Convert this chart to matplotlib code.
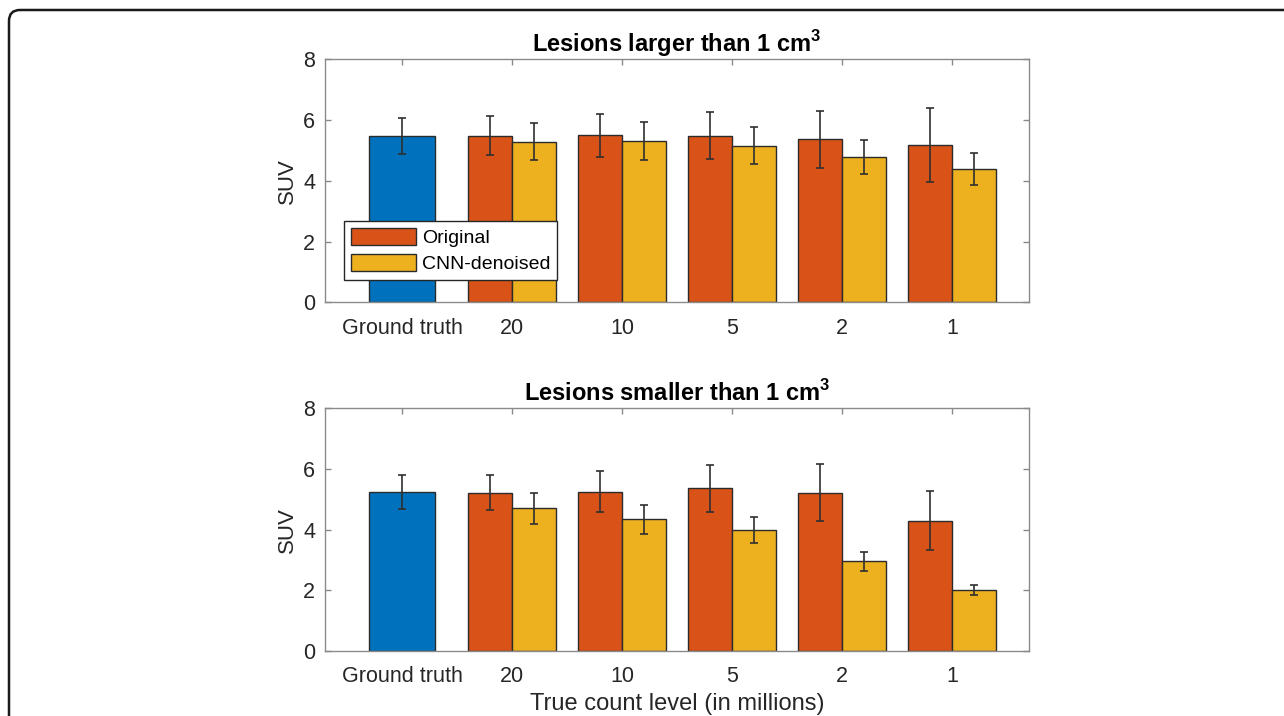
import numpy as np
import matplotlib
matplotlib.use("Agg")
import matplotlib.pyplot as plt
from matplotlib.patches import FancyBboxPatch

plt.rcParams['font.family'] = ['Liberation Sans', 'DejaVu Sans']
plt.rcParams['mathtext.fontset'] = 'custom'
plt.rcParams['mathtext.rm'] = 'Liberation Sans'
plt.rcParams['mathtext.bf'] = 'Liberation Sans:bold'

# count levels (millions)
labels = ['Ground truth', '20', '10', '5', '2', '1']

# lesions > 1 cm3
gt_large, gt_large_sd = 5.48, 0.60
orig_large = [5.48, 5.50, 5.48, 5.36, 5.18]
orig_large_sd = [0.64, 0.71, 0.77, 0.95, 1.22]
cnn_large = [5.28, 5.30, 5.16, 4.78, 4.38]
cnn_large_sd = [0.61, 0.63, 0.60, 0.56, 0.53]

# lesions < 1 cm3
gt_small, gt_small_sd = 5.24, 0.56
orig_small = [5.22, 5.25, 5.36, 5.22, 4.29]
orig_small_sd = [0.58, 0.67, 0.77, 0.95, 0.97]
cnn_small = [4.70, 4.34, 4.00, 2.95, 2.00]
cnn_small_sd = [0.52, 0.48, 0.43, 0.31, 0.17]

blue = '#0072BD'
orange = '#D95319'
yellow = '#EDB120'
edge = '#2b2b2b'
axcol = '#8a8a8a'
txtcol = '#262626'

fig = plt.figure(figsize=(12.84, 7.16), dpi=100)

# frame around the figure
frame = FancyBboxPatch((9, -60), 1400, 766, boxstyle='round,pad=0,rounding_size=11',
                       transform=None, facecolor='none', edgecolor='#1a1a1a', lw=1.8)
fig.add_artist(frame)


def panel(ax, title, gt, gt_sd, orig, orig_sd, cnn, cnn_sd):
    x = np.arange(1, len(labels) + 1)
    ekw = dict(ecolor='#303030', elinewidth=1.2, capsize=3, capthick=1.2)
    ax.bar(x[0], gt, width=0.6, color=blue, edgecolor=edge, lw=1, zorder=2)
    ax.errorbar(x[0], gt, yerr=gt_sd, fmt='none', zorder=3, **ekw)
    ax.bar(x[1:] - 0.2, orig, width=0.4, color=orange, edgecolor=edge, lw=1,
           zorder=2, label='Original')
    ax.bar(x[1:] + 0.2, cnn, width=0.4, color=yellow, edgecolor=edge, lw=1,
           zorder=2, label='CNN-denoised')
    ax.errorbar(x[1:] - 0.2, orig, yerr=orig_sd, fmt='none', zorder=3, **ekw)
    ax.errorbar(x[1:] + 0.2, cnn, yerr=cnn_sd, fmt='none', zorder=3, **ekw)
    ax.set_xlim(0.3, 6.7)
    ax.set_ylim(0, 8)
    ax.set_xticks(x)
    ax.set_xticklabels(labels)
    ax.set_yticks([0, 2, 4, 6, 8])
    ax.tick_params(direction='in', length=4.5, width=1, color=axcol,
                   labelsize=15.5, labelcolor=txtcol, top=True, right=True, pad=7)
    ax.tick_params(axis='x', pad=11)
    for s in ax.spines.values():
        s.set_color(axcol)
        s.set_linewidth(1)
    ax.set_ylabel('SUV', fontsize=16, color=txtcol, labelpad=4)
    ax.set_title(title, fontsize=17, fontweight='bold', color='black', pad=5)


ax1 = fig.add_axes([0.2531, 0.5778, 0.5483, 0.3394])
panel(ax1, r'Lesions larger than 1 cm$^{\mathbf{3}}$', gt_large, gt_large_sd,
      orig_large, orig_large_sd, cnn_large, cnn_large_sd)
leg = ax1.legend(loc='lower left', bbox_to_anchor=(0.027, 0.092), borderaxespad=0,
                 fontsize=14, frameon=True, fancybox=False, framealpha=1,
                 edgecolor='#262626', handlelength=3.35, handleheight=1.0,
                 handletextpad=0.3, labelspacing=0.35, borderpad=0.35)
leg.get_frame().set_linewidth(1)
leg.set_zorder(5)

ax2 = fig.add_axes([0.2531, 0.0908, 0.5483, 0.339])
panel(ax2, r'Lesions smaller than 1 cm$^{\mathbf{3}}$', gt_small, gt_small_sd,
      orig_small, orig_small_sd, cnn_small, cnn_small_sd)
ax2.set_xlabel('True count level (in millions)', fontsize=17, color=txtcol, labelpad=4)

fig.savefig('out.png', dpi=100)
